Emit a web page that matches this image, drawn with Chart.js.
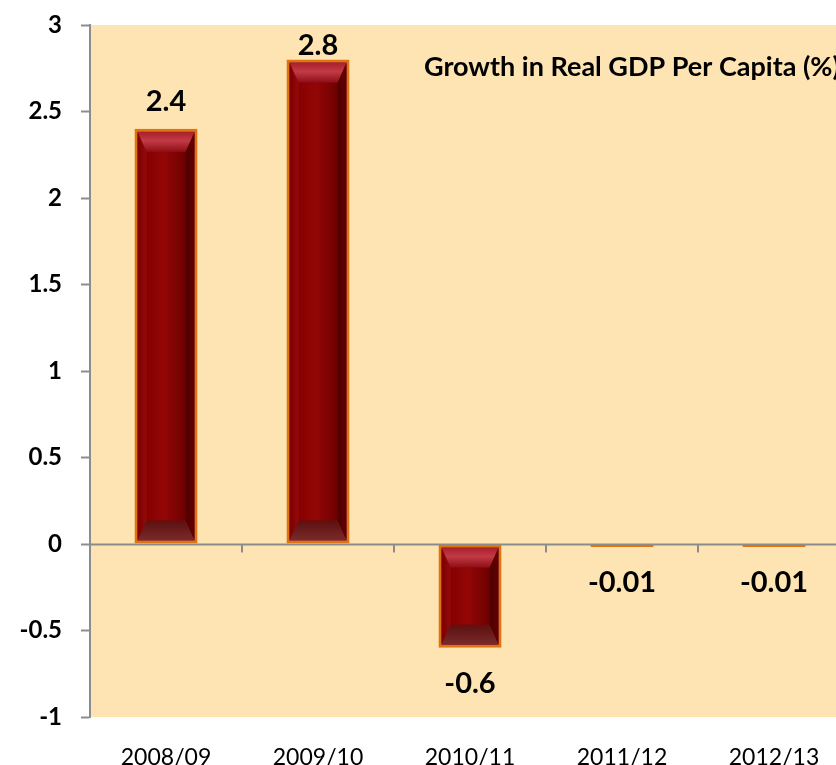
<!DOCTYPE html>
<html>
<head>
<meta charset="utf-8">
<script src="https://cdn.jsdelivr.net/npm/chart.js@4"></script>
<style>
  html, body { margin: 0; padding: 0; overflow: hidden; background: #fff; }
  canvas { display: block; }
</style>
</head>
<body>
<canvas id="gdp" width="870" height="765"></canvas>
<script>
const years = ['2008/09', '2009/10', '2010/11', '2011/12', '2012/13'];
const growth = [2.4, 2.8, -0.6, -0.01, -0.01];
const growthLabels = ['2.4', '2.8', '-0.6', '-0.01', '-0.01'];
const chartTitle = 'Growth in Real GDP Per Capita (%)';

const FONT = 'Lato, Calibri, sans-serif';
const AXIS_GREY = '#8c8c8c';

// peach plot area behind the bars
const plotBackground = {
    id: 'plotBackground',
    beforeDraw(chart) {
        const { ctx, chartArea: a } = chart;
        ctx.save();
        ctx.fillStyle = '#fde4b2';
        ctx.fillRect(a.left, a.top, a.right - a.left, a.bottom - a.top);
        ctx.restore();
    }
};

// bevelled look on top of the plain bars
function bevel(ctx, bar) {
    const { x, y, base, width } = bar.getProps(['x', 'y', 'base', 'width'], true);
    const t = Math.min(y, base), b = Math.max(y, base);
    if (b - t < 10) return;
    const bw = 3;
    const L = x - width / 2 + bw, R = x + width / 2 - bw, T = t + bw, B = b - bw;
    const sx = 9, sy = Math.min(20, (B - T) / 3);

    const poly = (pts, fill) => {
        ctx.beginPath();
        ctx.moveTo(pts[0][0], pts[0][1]);
        pts.slice(1).forEach(p => ctx.lineTo(p[0], p[1]));
        ctx.closePath();
        ctx.fillStyle = fill;
        ctx.fill();
    };

    // face
    let g = ctx.createLinearGradient(L + sx, 0, R - sx, 0);
    g.addColorStop(0, '#880000');
    g.addColorStop(0.45, '#930606');
    g.addColorStop(1, '#6e0000');
    poly([[L + sx, T + sy], [R - sx, T + sy], [R - sx, B - sy], [L + sx, B - sy]], g);

    // left side
    g = ctx.createLinearGradient(L, 0, L + sx, 0);
    g.addColorStop(0, '#7a0000');
    g.addColorStop(1, '#950a0a');
    poly([[L, T], [L + sx, T + sy], [L + sx, B - sy], [L, B]], g);

    // right side
    g = ctx.createLinearGradient(R - sx, 0, R, 0);
    g.addColorStop(0, '#4c0000');
    g.addColorStop(1, '#650000');
    poly([[R, T], [R - sx, T + sy], [R - sx, B - sy], [R, B]], g);

    // top
    g = ctx.createLinearGradient(0, T, 0, T + sy);
    g.addColorStop(0, '#a8202a');
    g.addColorStop(0.45, '#c23a45');
    g.addColorStop(1, '#8e0e16');
    poly([[L, T], [R, T], [R - sx, T + sy], [L + sx, T + sy]], g);

    // bottom
    g = ctx.createLinearGradient(0, B - sy, 0, B);
    g.addColorStop(0, '#5c1010');
    g.addColorStop(1, '#7a2a2a');
    poly([[L, B], [R, B], [R - sx, B - sy], [L + sx, B - sy]], g);
}

const barDecor = {
    id: 'barDecor',
    afterDatasetsDraw(chart) {
        const { ctx, chartArea: a, scales: { x, y } } = chart;
        const bars = chart.getDatasetMeta(0).data;
        ctx.save();
        bars.forEach(bar => bevel(ctx, bar));

        // zero line with category tick marks hanging from it
        const y0 = Math.round(y.getPixelForValue(0)) + 0.5;
        ctx.strokeStyle = AXIS_GREY;
        ctx.lineWidth = 2;
        ctx.beginPath();
        ctx.moveTo(a.left, y0);
        ctx.lineTo(a.right, y0);
        for (let i = 0; i < years.length; i++) {
            const bx = (x.getPixelForValue(i) + x.getPixelForValue(i + 1)) / 2;
            ctx.moveTo(Math.round(bx), y0);
            ctx.lineTo(Math.round(bx), y0 + 8);
        }
        ctx.stroke();

        // value labels
        ctx.fillStyle = '#000';
        ctx.font = `bold 29px ${FONT}`;
        ctx.textAlign = 'center';
        ctx.textBaseline = 'middle';
        bars.forEach((bar, i) => {
            const { x: bx, y: by, base } = bar.getProps(['x', 'y', 'base'], true);
            let ly;
            if (growth[i] >= 0) {
                ly = Math.max(by - 27, a.top + 21);
            } else {
                ly = Math.max(by, base) + 36;
            }
            ctx.fillText(growthLabels[i], bx, ly);
        });

        // title inside the plot
        ctx.font = `bold 27px ${FONT}`;
        ctx.textAlign = 'left';
        ctx.textBaseline = 'alphabetic';
        ctx.fillText(chartTitle, a.left + 334, a.top + 51);
        ctx.restore();
    }
};

new Chart(document.getElementById('gdp'), {
    type: 'bar',
    data: {
        labels: years,
        datasets: [{
            data: growth,
            backgroundColor: '#8b0000',
            borderColor: '#e0750f',
            borderWidth: 3,
            borderSkipped: false,
            minBarLength: 3,
            barPercentage: 0.415,
            categoryPercentage: 1
        }]
    },
    options: {
        responsive: false,
        animation: false,
        layout: { padding: { top: 25, right: 20, bottom: 0, left: 0 } },
        plugins: {
            legend: { display: false },
            tooltip: { enabled: false }
        },
        scales: {
            x: {
                grid: { display: false },
                border: { display: false },
                ticks: {
                    color: '#000',
                    padding: 19,
                    font: { family: FONT, size: 23 }
                },
                afterFit(scale) { scale.height = 48; }
            },
            y: {
                min: -1,
                max: 3,
                ticks: {
                    stepSize: 0.5,
                    color: '#000',
                    padding: 19,
                    font: { family: FONT, size: 24, weight: 'bold' },
                    callback: v => String(v)
                },
                grid: {
                    drawOnChartArea: false,
                    tickLength: 9,
                    tickColor: AXIS_GREY,
                    tickWidth: 2
                },
                border: { color: AXIS_GREY, width: 2 },
                afterFit(scale) {
                    scale.width = 90;
                    scale.paddingTop = 0;
                    scale.paddingBottom = 0;
                }
            }
        }
    },
    plugins: [plotBackground, barDecor]
});
</script>
</body>
</html>
